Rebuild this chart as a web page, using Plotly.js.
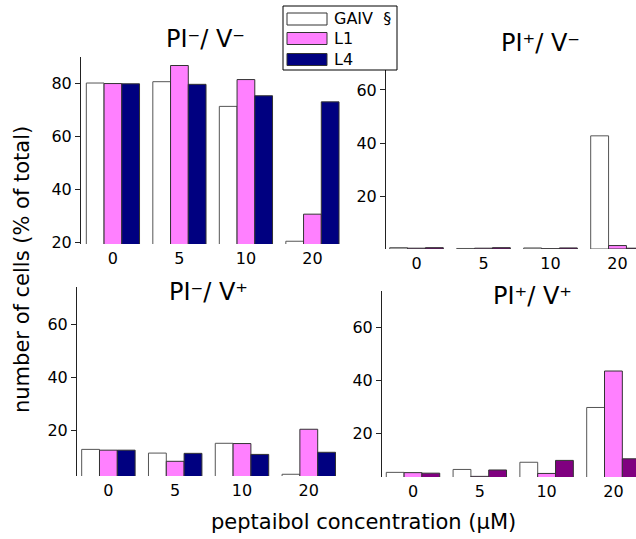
<!DOCTYPE html>
<html>
<head>
<meta charset="utf-8">
<script src="https://cdn.plot.ly/plotly-3.0.1.min.js"></script>
<style>html,body{margin:0;padding:0;background:#fff;}#chart{width:636px;height:539px;}</style>
</head>
<body>
<div id="chart"></div>
<script>
// ---- data ----
const categories = ['0', '5', '10', '20'];          // peptaibol concentration (µM)
const seriesNames = ['GAIV', 'L1', 'L4'];
const legendLabels = ['GAIV  §', 'L1', 'L4'];
const panelTitles = ['PI\u207B/ V\u207B', 'PI\u207A/ V\u207B', 'PI\u207B/ V\u207A', 'PI\u207A/ V\u207A'];
const colorsLeft = ['#FFFFFF', '#FF80FF', '#000080'];
const colorsRight = ['#FFFFFF', '#FF80FF', '#800080'];

// PI- / V-
const piNegVneg_GAIV = [80.0, 80.5, 71.2, 20.4];
const piNegVneg_L1   = [79.8, 86.6, 81.3, 30.6];
const piNegVneg_L4   = [79.7, 79.5, 75.2, 72.9];
// PI+ / V-
const piPosVneg_GAIV = [0.5, 0.2, 0.4, 42.7];
const piPosVneg_L1   = [0.3, 0.3, 0.1, 1.3];
const piPosVneg_L4   = [0.5, 0.5, 0.4, 0.3];
// PI- / V+
const piNegVpos_GAIV = [12.8, 11.4, 15.1, 3.4];
const piNegVpos_L1   = [12.5, 8.3, 15.0, 20.4];
const piNegVpos_L4   = [12.5, 11.3, 10.9, 11.7];
// PI+ / V+
const piPosVpos_GAIV = [5.5, 6.6, 9.3, 29.9];
const piPosVpos_L1   = [5.4, 4.0, 5.1, 43.6];
const piPosVpos_L4   = [5.2, 6.4, 10.0, 10.6];

// ---- layout helpers ----
const W = 636, H = 539;
const px = v => v / W;
const py = v => 1 - v / H;
const FONT = 'DejaVu Sans, Arial, sans-serif';
const catPos = categories.map((c, i) => i);

const panels = [
  {ax: '', data: [piNegVneg_GAIV, piNegVneg_L1, piNegVneg_L4], colors: colorsLeft,
   xd: [81, 350], yd: [244, 57], xr: [-0.48, 3.565], yr: [19.36, 89.8], tv: [20, 40, 60, 80],
   title: panelTitles[0], tx: 205, ty: 39},
  {ax: '2', data: [piPosVneg_GAIV, piPosVneg_L1, piPosVneg_L4], colors: colorsRight,
   xd: [386, 636], yd: [249, 57], xr: [-0.455, 3.276], yr: [0, 72.45], tv: [20, 40, 60],
   title: panelTitles[1], tx: 540, ty: 43},
  {ax: '3', data: [piNegVpos_GAIV, piNegVpos_L1, piNegVpos_L4], colors: colorsLeft,
   xd: [77, 350], yd: [476, 287], xr: [-0.47, 3.617], yr: [2.75, 74.1], tv: [20, 40, 60],
   title: panelTitles[2], tx: 208, ty: 292},
  {ax: '4', data: [piPosVpos_GAIV, piPosVpos_L1, piPosVpos_L4], colors: colorsRight,
   xd: [382, 636], yd: [477, 290.7], xr: [-0.464, 3.338], yr: [3.76, 73.8], tv: [20, 40, 60],
   title: panelTitles[3], tx: 532, ty: 296}
];

const traces = [];
const layout = {
  width: W, height: H,
  margin: {l: 0, r: 0, t: 0, b: 0},
  paper_bgcolor: '#fff', plot_bgcolor: 'rgba(0,0,0,0)',
  barmode: 'group', bargap: 0.2, bargroupgap: 0,
  showlegend: false,
  font: {family: FONT, color: '#000', size: 16},
  annotations: [], shapes: []
};

panels.forEach(p => {
  p.data.forEach((vals, si) => {
    traces.push({
      type: 'bar', name: seriesNames[si], x: catPos, y: vals,
      xaxis: 'x' + p.ax, yaxis: 'y' + p.ax,
      marker: {color: p.colors[si], line: {color: si === 0 ? '#555' : '#333', width: 1}},
      hoverinfo: 'skip'
    });
  });
  layout['xaxis' + p.ax] = {
    domain: [px(p.xd[0]), px(p.xd[1])], range: p.xr, anchor: 'y' + p.ax,
    tickmode: 'array', tickvals: catPos, ticktext: categories,
    showline: false, showgrid: false, zeroline: false,
    ticks: '', ticklabelstandoff: 3,
    tickfont: {size: 16, family: FONT, color: '#000'}, fixedrange: true
  };
  layout['yaxis' + p.ax] = {
    domain: [py(p.yd[0]), py(p.yd[1])], range: p.yr, anchor: 'x' + p.ax,
    tickmode: 'array', tickvals: p.tv, showline: true, linecolor: '#222', linewidth: 1,
    ticks: 'outside', ticklen: 5, tickcolor: '#222', showgrid: false, zeroline: false,
    tickfont: {size: 16, family: FONT, color: '#000'}, fixedrange: true
  };
  layout.annotations.push({
    xref: 'paper', yref: 'paper', x: px(p.tx), y: py(p.ty), xanchor: 'center', yanchor: 'middle',
    text: p.title, showarrow: false, font: {size: 24, family: FONT, color: '#000'}
  });
});

// axis titles
layout.annotations.push({
  xref: 'paper', yref: 'paper', x: px(22), y: py(270), xanchor: 'center', yanchor: 'middle',
  text: 'number of cells (% of total)', textangle: -90, showarrow: false,
  font: {size: 21, family: FONT, color: '#000'}
});
layout.annotations.push({
  xref: 'paper', yref: 'paper', x: px(363), y: py(522), xanchor: 'center', yanchor: 'middle',
  text: 'peptaibol concentration (μM)', showarrow: false,
  font: {size: 21, family: FONT, color: '#000'}
});

// legend box (drawn manually to match wide swatches)
layout.shapes.push({type: 'rect', xref: 'paper', yref: 'paper', x0: px(283), x1: px(397), y0: py(70), y1: py(6),
  line: {color: '#000', width: 1}, fillcolor: '#fff', layer: 'above'});
const rowsY = [19, 38.5, 59.5];
legendLabels.forEach((lab, i) => {
  layout.shapes.push({type: 'rect', xref: 'paper', yref: 'paper', x0: px(287), x1: px(327),
    y0: py(rowsY[i] + 6), y1: py(rowsY[i] - 6), line: {color: '#333', width: 1},
    fillcolor: colorsLeft[i], layer: 'above'});
  layout.annotations.push({xref: 'paper', yref: 'paper', x: px(332), y: py(rowsY[i]), xanchor: 'left', yanchor: 'middle',
    text: lab, showarrow: false, font: {size: 16, family: FONT, color: '#000'}});
});

Plotly.newPlot('chart', traces, layout, {staticPlot: true, displayModeBar: false});
</script>
</body>
</html>
